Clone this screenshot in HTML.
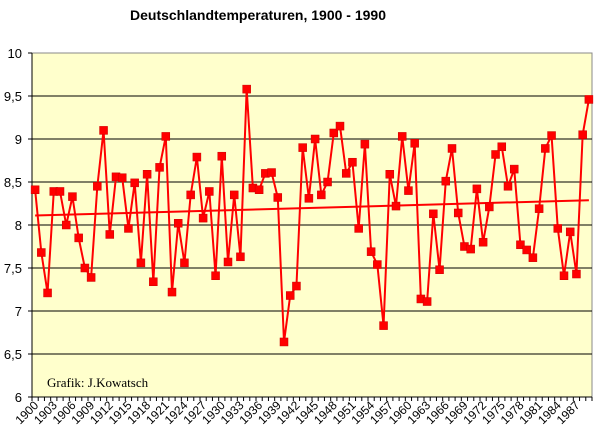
<!DOCTYPE html>
<html><head><meta charset="utf-8"><style>
html,body{margin:0;padding:0;background:#fff;}
svg{display:block;font-family:"Liberation Sans",Arial,sans-serif;}
</style></head><body>
<svg id="chart" width="608" height="447" viewBox="0 0 608 447" xmlns="http://www.w3.org/2000/svg">
<text x="258" y="20" text-anchor="middle" font-size="14" font-weight="bold">Deutschlandtemperaturen, 1900 - 1990</text>
<rect x="32" y="53" width="560" height="344" fill="#ffffcc" stroke="#888" stroke-width="1"/>
<g id="grid"></g><g id="yaxis"></g><g id="xaxis"></g><g id="series"></g>
<text x="47" y="387" font-family="'Liberation Serif',serif" font-size="13">Grafik:  J.Kowatsch</text>
</svg>
<script>
const startYear = 1900;
const temps = [8.41,7.68,7.21,8.39,8.39,8.0,8.33,7.85,7.5,7.39,
8.45,9.1,7.89,8.56,8.55,7.96,8.49,7.56,8.59,7.34,
8.67,9.03,7.22,8.02,7.56,8.35,8.79,8.08,8.39,7.41,
8.8,7.57,8.35,7.63,9.58,8.43,8.41,8.6,8.61,8.32,
6.64,7.18,7.29,8.9,8.31,9.0,8.35,8.5,9.07,9.15,
8.6,8.73,7.96,8.94,7.69,7.54,6.83,8.59,8.22,9.03,
8.4,8.95,7.14,7.11,8.13,7.48,8.51,8.89,8.14,7.75,
7.72,8.42,7.8,8.21,8.82,8.91,8.45,8.65,7.77,7.71,
7.62,8.19,8.89,9.04,7.96,7.41,7.92,7.43,9.05,9.46];
const yTicks = [6,6.5,7,7.5,8,8.5,9,9.5,10];
const yTickLabels = ["6","6,5","7","7,5","8","8,5","9","9,5","10"];
const NS="http://www.w3.org/2000/svg";
const X0=32,X1=592,Y0=397,Y1=53,YMIN=6,YMAX=10;
const n=temps.length, step=(X1-X0)/n;
const xPos=i=>X0+(i+0.5)*step;
const yPos=v=>Y0-(v-YMIN)/(YMAX-YMIN)*(Y0-Y1);
function mk(tag,attrs,parent){const e=document.createElementNS(NS,tag);for(const k in attrs)e.setAttribute(k,attrs[k]);parent.appendChild(e);return e;}
const grid=document.getElementById('grid'),ya=document.getElementById('yaxis'),xa=document.getElementById('xaxis'),se=document.getElementById('series');
yTicks.forEach((t,i)=>{
  const y=yPos(t);
  if(t>YMIN&&t<YMAX){const l=mk('line',{x1:X0,x2:X1,y1:y,y2:y,stroke:'#000','stroke-width':1},grid);
  
  }
  const tk=mk('line',{x1:X0-4,x2:X0,y1:y,y2:y,stroke:'#000'},ya);
  
  
  const tx=mk('text',{x:22,y:y+5,'text-anchor':'end','font-size':13},ya);
  tx.textContent=yTickLabels[i];
  
  
});
const ax=mk('line',{x1:X0,x2:X0,y1:Y1,y2:Y0,stroke:'#000'},ya);


const bx=mk('line',{x1:X0,x2:X1,y1:Y0,y2:Y0,stroke:'#000'},xa);


for(let i=0;i<=n;i++){const x=X0+i*step;const t=mk('line',{x1:x,x2:x,y1:Y0,y2:Y0+4,stroke:'#000'},xa);
  
  }
for(let i=0;i<n;i+=3){const x=xPos(i)+4,y=Y0+9;
  const t=mk('text',{x:x,y:y,'text-anchor':'end','font-size':12,transform:`rotate(-45 ${x} ${y})`},xa);
  t.textContent=String(startYear+i);
  
  }
// trend
let sx=0,sy=0,sxx=0,sxy=0;temps.forEach((v,i)=>{sx+=i;sy+=v;sxx+=i*i;sxy+=i*v;});
const b=(n*sxy-sx*sy)/(n*sxx-sx*sx),a=(sy-b*sx)/n;
const tr=mk('line',{x1:xPos(0),y1:yPos(a),x2:xPos(n-1),y2:yPos(a+b*(n-1)),stroke:'#ff0000','stroke-width':2},se);


const pl=mk('polyline',{points:temps.map((v,i)=>xPos(i)+','+yPos(v)).join(' '),fill:'none',stroke:'#ff0000','stroke-width':2},se);


temps.forEach((v,i)=>{const r=mk('rect',{x:xPos(i)-4,y:yPos(v)-4,width:8,height:8,fill:'#ff0000',stroke:'#cc0000','stroke-width':0.5},se);
  
  });
</script>
</body></html>
